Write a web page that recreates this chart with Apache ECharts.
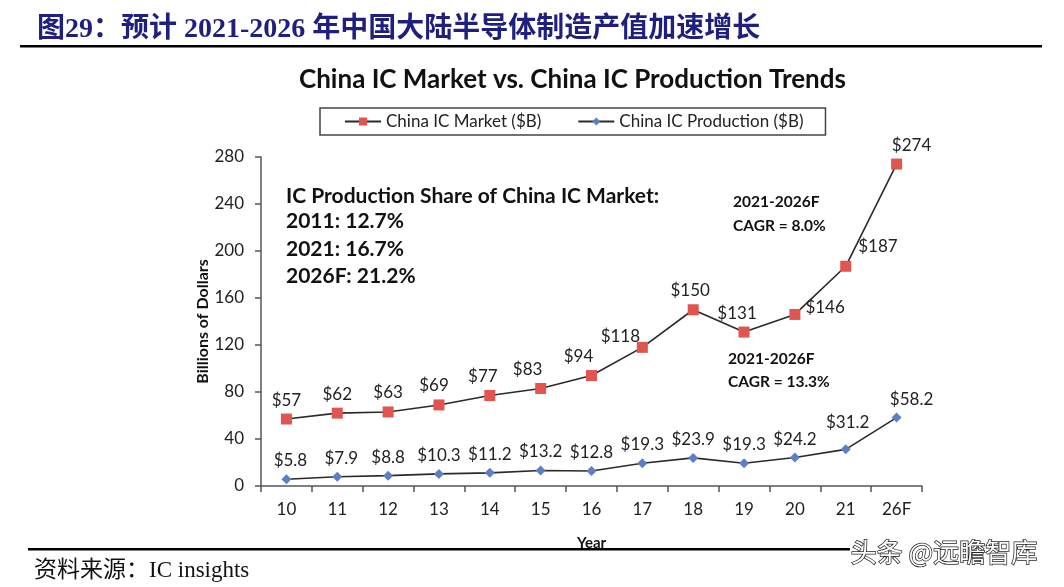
<!DOCTYPE html>
<html><head><meta charset="utf-8">
<script src="https://cdn.jsdelivr.net/npm/echarts@6/dist/echarts.min.js"></script>
<style>html,body{margin:0;padding:0;background:#fff}#c{width:1064px;height:587px}</style>
</head><body><div id="c"></div>
<script>
const categories = ['10','11','12','13','14','15','16','17','18','19','20','21','26F'];
const marketValues = [57,62,63,69,77,83,94,118,150,131,146,187,274];
const productionValues = [5.8,7.9,8.8,10.3,11.2,13.2,12.8,19.3,23.9,19.3,24.2,31.2,58.2];
const yTicks = [0,40,80,120,160,200,240,280];

// label placement tweaks (style only)
const marketLabelPos = [
  {}, {}, {}, {offset:[-5,0]}, {offset:[-7,0]}, {offset:[-13,0]}, {offset:[-13,0]},
  {offset:[-22,8]}, {offset:[-3,0]}, {offset:[-7,0]},
  {position:'right', offset:[0,-7]}, {position:'right', offset:[2,-20]}, {offset:[15,0]}
];
const prodLabelPos = [
  {offset:[4,0]}, {offset:[4,0]}, {}, {}, {}, {}, {}, {}, {}, {}, {}, {offset:[2,-8]}, {offset:[15,0]}
];

const FONT = 'Lato, "Open Sans", sans-serif';
const lblStyle = {show:true, position:'top', fontSize:17, color:'#222', fontFamily:FONT, formatter:p=>'$'+p.value};

const chart = echarts.init(document.getElementById('c'));
chart.setOption({
  animation:false,
  title:[{
    text:'图29：预计 2021-2026 年中国大陆半导体制造产值加速增长',
    left:32, top:11,
    textStyle:{fontFamily:'"Liberation Serif","Noto Sans CJK SC",serif', fontWeight:'bold', fontSize:28, color:'#1f1f7f'}
  },{
    text:'China IC Market vs. China IC Production Trends',
    left:294, top:62,
    textStyle:{fontFamily:FONT, fontWeight:'bold', fontSize:26, color:'#111'}
  }],
  legend:{
    top:108, left:320, width:480, height:20,
    itemGap:36, itemWidth:36, itemHeight:10,
    borderColor:'#444', borderWidth:1.5, padding:[5,22,5,24],
    textStyle:{fontFamily:FONT, fontSize:17, color:'#222'},
    data:['China IC Market ($B)','China IC Production ($B)']
  },
  grid:{left:261, right:142, top:157, bottom:101, containLabel:false},
  xAxis:{
    type:'category', data:categories, boundaryGap:true,
    name:'Year', nameLocation:'middle', nameGap:50, nameMoveOverlap:false,
    nameTextStyle:{fontFamily:FONT, fontWeight:'bold', fontSize:15, color:'#111'},
    axisLine:{lineStyle:{color:'#555', width:1.5}},
    axisTick:{show:true, inside:false, length:6, alignWithLabel:false, lineStyle:{color:'#555', width:1.5}},
    axisLabel:{fontFamily:FONT, fontSize:17, color:'#222', margin:15}
  },
  yAxis:{
    type:'value', min:yTicks[0], max:yTicks[yTicks.length-1], interval:40,
    name:'Billions of Dollars', nameLocation:'middle', nameGap:50, nameRotate:90, nameMoveOverlap:false,
    nameTextStyle:{fontFamily:FONT, fontWeight:'bold', fontSize:16, color:'#111'},
    axisLine:{show:true, lineStyle:{color:'#555', width:1.5}},
    axisTick:{show:true, length:6, lineStyle:{color:'#555', width:1.5}},
    splitLine:{show:false},
    axisLabel:{fontFamily:FONT, fontSize:17, color:'#222', margin:17}
  },
  series:[{
    name:'China IC Market ($B)', type:'line',
    data:marketValues.map((v,i)=>({value:v, label:marketLabelPos[i]})),
    symbol:'rect', symbolSize:11,
    itemStyle:{color:'#e05550'},
    lineStyle:{color:'#2a2a2a', width:1.6},
    label:lblStyle
  },{
    name:'China IC Production ($B)', type:'line',
    data:productionValues.map((v,i)=>({value:v, label:prodLabelPos[i]})),
    symbol:'diamond', symbolSize:10,
    itemStyle:{color:'#5b80c8'},
    lineStyle:{color:'#2a2a2a', width:1.6},
    label:lblStyle
  }],
  graphic:[
    {type:'rect', shape:{x:20, y:45, width:1022, height:2.5}, style:{fill:'#000'}},
    {type:'text', left:286, top:186, style:{text:'IC Production Share of China IC Market:', font:'bold 21px '+FONT, fill:'#111'}},
    {type:'text', left:286, top:211, style:{text:'2011: 12.7%', font:'bold 21px '+FONT, fill:'#111'}},
    {type:'text', left:286, top:239, style:{text:'2021: 16.7%', font:'bold 21px '+FONT, fill:'#111'}},
    {type:'text', left:286, top:266, style:{text:'2026F: 21.2%', font:'bold 21px '+FONT, fill:'#111'}},
    {type:'text', left:733, top:194, style:{text:'2021-2026F', font:'bold 15.5px '+FONT, fill:'#111'}},
    {type:'text', left:733, top:218, style:{text:'CAGR = 8.0%', font:'bold 15.5px '+FONT, fill:'#111'}},
    {type:'text', left:728, top:351, style:{text:'2021-2026F', font:'bold 15.5px '+FONT, fill:'#111'}},
    {type:'text', left:728, top:374, style:{text:'CAGR = 13.3%', font:'bold 15.5px '+FONT, fill:'#111'}},
    {type:'rect', shape:{x:28, y:548, width:822, height:2.5}, style:{fill:'#000'}},
    {type:'text', left:34, top:559, style:{text:'资料来源：IC insights', font:'23px "Liberation Serif","Noto Sans CJK SC",serif', fill:'#111'}},
    {type:'text', left:850, top:538, style:{text:'头条 @远瞻智库', font:'26px "Noto Sans CJK SC",sans-serif', fill:'#fff', stroke:'#222', lineWidth:1.5}}
  ]
});
</script></body></html>
